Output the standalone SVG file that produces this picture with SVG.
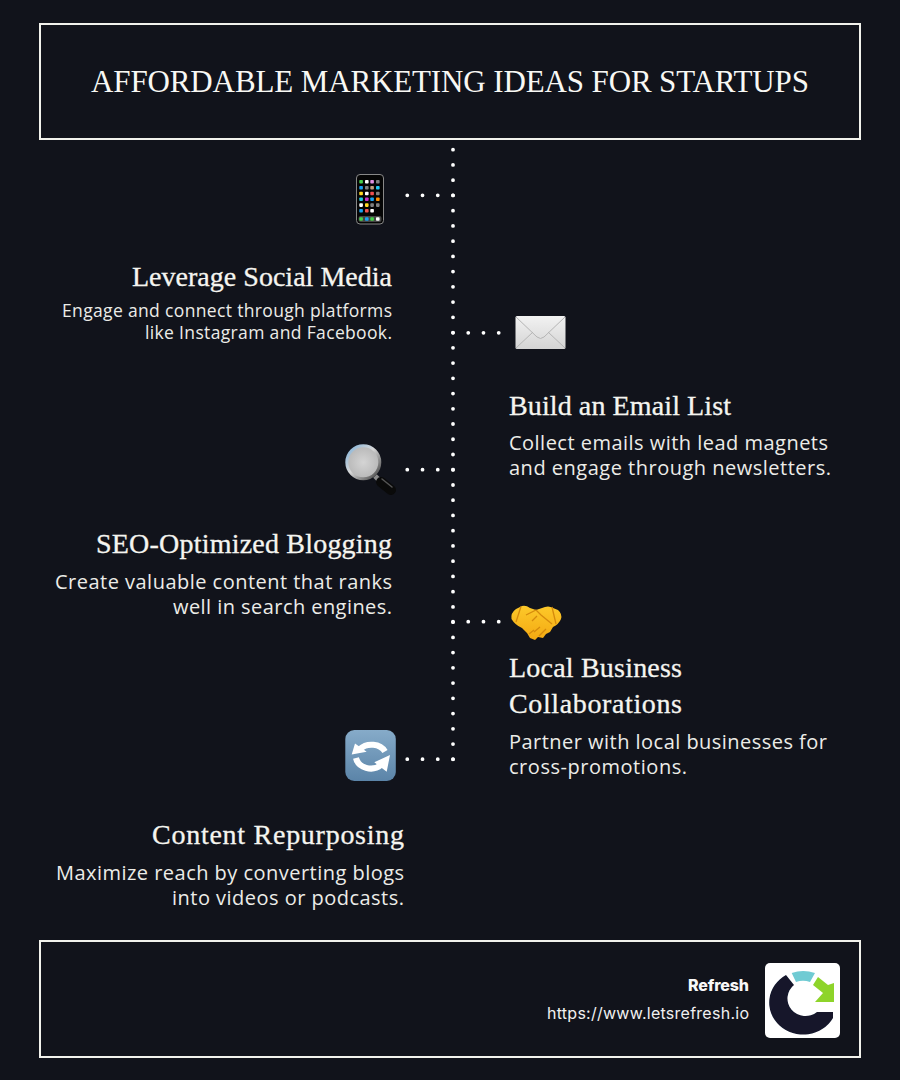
<svg xmlns="http://www.w3.org/2000/svg" width="900" height="1080" viewBox="0 0 900 1080">
<style>
.frame{fill:#11131b;stroke:#f2f2ec;stroke-width:2}
.dots{fill:none;stroke:#fff;stroke-width:3.800;stroke-linecap:round;stroke-dasharray:0 15.24}
.h{font-family:"Liberation Serif","DejaVu Serif",serif;font-size:28px;fill:#f5f5f0;stroke:#f5f5f0;stroke-width:.3px}
.b{font-family:"Open Sans","Noto Sans",sans-serif;fill:#ecece8}
.s{font-size:17.500px}.m{font-size:20px}
.e{text-anchor:end}
.i rect{width:3.600px;height:3.600px;rx:.8px}
</style>
<defs>
<linearGradient id="env" x1="0" y1="0" x2="0" y2="1"><stop offset="0" stop-color="#f2f2f2"/><stop offset="1" stop-color="#d4d4d4"/></linearGradient>
<linearGradient id="blue" x1="0" y1="0" x2="0" y2="1"><stop offset="0" stop-color="#86abc9"/><stop offset="1" stop-color="#5b84a8"/></linearGradient>
<radialGradient id="glass"><stop offset="0" stop-color="#d4d4d4"/><stop offset="1" stop-color="#b8b8b8"/></radialGradient>
<linearGradient id="ring" x1="0" y1="0" x2="1" y2="1"><stop offset="0" stop-color="#7fb0d8"/><stop offset=".45" stop-color="#d8d8d8"/><stop offset="1" stop-color="#3a3a3a"/></linearGradient>
<linearGradient id="hand" x1="0" y1="0" x2="0" y2="1"><stop offset="0" stop-color="#fdc92a"/><stop offset="1" stop-color="#f3a912"/></linearGradient>
<filter id="soft" x="-5%" y="-5%" width="110%" height="110%"><feGaussianBlur stdDeviation=".6"/></filter>
</defs>
<rect width="900" height="1080" fill="#11131b"/>
<g id="title"><rect class="frame" x="40" y="24" width="820" height="115"/>
<text x="450" y="92" text-anchor="middle" textLength="718" font-family="Liberation Serif,serif" font-size="31" fill="#f8f8f4">AFFORDABLE MARKETING IDEAS FOR STARTUPS</text></g>
<g id="connectors">
<path class="dots" d="M453 149.700V760"/>
<path class="dots" d="M453 195.300H407"/>
<path class="dots" d="M453 332.800H499"/>
<path class="dots" d="M453 469.700H407"/>
<path class="dots" d="M453 621.700H499"/>
<path class="dots" d="M453 759.200H407"/>
</g>
<g id="social">
<rect x="356.500" y="174.500" width="27" height="49.500" rx="3.500" fill="#050505" stroke="#888" stroke-width="1"/>
<rect x="358.500" y="216" width="23" height="6" rx="2" fill="#444"/>
<g class="i">
<g fill="#46d04a"><rect x="359.300" y="180"/><rect x="359.300" y="217.200"/><rect x="370.300" y="217.200"/></g>
<g fill="#19a0f0"><rect x="359.300" y="186"/><rect x="365" y="217.200"/><rect x="359.300" y="209"/><rect x="370.300" y="197.500"/></g>
<g fill="#fff"><rect x="365" y="180"/><rect x="365" y="191.700"/><rect x="359.300" y="203.300"/><rect x="370.300" y="209"/><rect x="376" y="217.200"/></g>
<rect x="370.300" y="180" fill="#e090e0"/><rect x="365" y="197.500" fill="#c830c8"/>
<g fill="#808080"><rect x="376" y="180"/><rect x="365" y="186"/><rect x="376" y="191.700"/><rect x="370.300" y="203.300"/><rect x="376" y="203.300"/></g>
<g fill="#ffd820"><rect x="359.300" y="191.700"/><rect x="365" y="203.300"/></g>
<g fill="#f05050"><rect x="370.300" y="191.700"/><rect x="365" y="209"/></g>
<rect x="359.300" y="197.500" fill="#20c8e0"/><rect x="376" y="197.500" fill="#ff9000"/><rect x="370.300" y="186" fill="#c0a080"/><rect x="376" y="186" fill="#20c8f0"/>
</g>
<text class="h e" x="392" y="286" textLength="260">Leverage Social Media</text>
<text class="b s e" x="392" y="316.500" textLength="330">Engage and connect through platforms</text>
<text class="b s e" x="392" y="338.500" textLength="247">like Instagram and Facebook.</text>
</g>
<g id="email">
<rect x="515.500" y="316" width="50" height="33" rx="1.500" fill="url(#env)"/>
<path d="M516 317L537 337Q540.500 340 544 337L565 317M516 348L533 332M565 348L548 332" fill="none" stroke="#b5b5b5" stroke-width="1"/>
<text class="h" x="509" y="415" textLength="222">Build an Email List</text>
<text class="b m" x="509" y="450" textLength="319">Collect emails with lead magnets</text>
<text class="b m" x="509" y="475" textLength="322">and engage through newsletters.</text>
</g>
<g id="seo">
<path d="M375 476L380 481" stroke="#8a8a8a" stroke-width="5"/>
<path d="M381 482L391 490" stroke="#0a0a0a" stroke-width="10" stroke-linecap="round"/>
<path d="M382 479L392 487" stroke="#555" stroke-width="1.500" stroke-linecap="round"/>
<circle cx="363.300" cy="462.300" r="16.500" fill="url(#glass)" stroke="url(#ring)" stroke-width="3"/>
<text class="h e" x="392" y="553" textLength="296">SEO-Optimized Blogging</text>
<text class="b m e" x="392" y="589" textLength="337">Create valuable content that ranks</text>
<text class="b m e" x="392" y="614" textLength="219">well in search engines.</text>
</g>
<g id="local">
<path d="M511.500 619Q510.500 613 516 609L522 606Q526 605 530 608L536 610L545 607Q549 605.500 553 608L558 610Q562.500 614 561 619Q559 624 553 627L550 632L546 634L543 638L538 637L535 640L530 638L527 633L522 628Q515 625 511.500 619Z" fill="url(#hand)"/>
<path d="M521 606.500L516 622M552 607L556 624M526 615L536 610L541 615L552 624M532 621L537 616M534 632L540 627M539 636L546 629M529 634L534 630" fill="none" stroke="#d58a0c" stroke-width="1.300"/>
<text class="h" x="509" y="677" textLength="173">Local Business</text>
<text class="h" x="509" y="713" textLength="173">Collaborations</text>
<text class="b m" x="509" y="749" textLength="318">Partner with local businesses for</text>
<text class="b m" x="509" y="774" textLength="178">cross-promotions.</text>
</g>
<g id="repurpose">
<rect x="345.300" y="730" width="50.500" height="51" rx="9" fill="url(#blue)"/>
<path d="M360 749A15 12 0 0 1 385 751.500M356 758A15 13 0 0 0 381 765" fill="none" stroke="#fff" stroke-width="6"/>
<path d="M351.700 754.500L355 743.500L366.700 751.700ZM390 755L374.300 762.300L386.700 771.700Z" fill="#fff"/>
<text class="h e" x="404" y="844" textLength="252">Content Repurposing</text>
<text class="b m e" x="404" y="880" textLength="348">Maximize reach by converting blogs</text>
<text class="b m e" x="404" y="905" textLength="232">into videos or podcasts.</text>
</g>
<g id="footer"><rect class="frame" x="40" y="941" width="820" height="116"/>
<text x="749" y="991" text-anchor="end" textLength="61" font-family="Inter,sans-serif" font-size="16" font-weight="800" fill="#f8f8f8">Refresh</text>
<text x="749" y="1019" text-anchor="end" textLength="202" font-family="Inter,sans-serif" font-size="16" fill="#f0f0f0">https://www.letsrefresh.io</text>
<rect x="765" y="963" width="75" height="75" rx="5" fill="#fff"/>
<g filter="url(#soft)">
<path d="M786 975A34 32 0 1 0 833 1018V1012H817A18 17.500 0 1 1 794 985Z" fill="#12162c"/>
<path d="M791.700 973Q803 969 815 973L810 982Q803 979.500 796 982Z" fill="#6fcbd3"/>
<path d="M818 977L828 985L834 983V1002H815L823 993L813 985Z" fill="#8ed42c"/>
</g>
</g>
</svg>
